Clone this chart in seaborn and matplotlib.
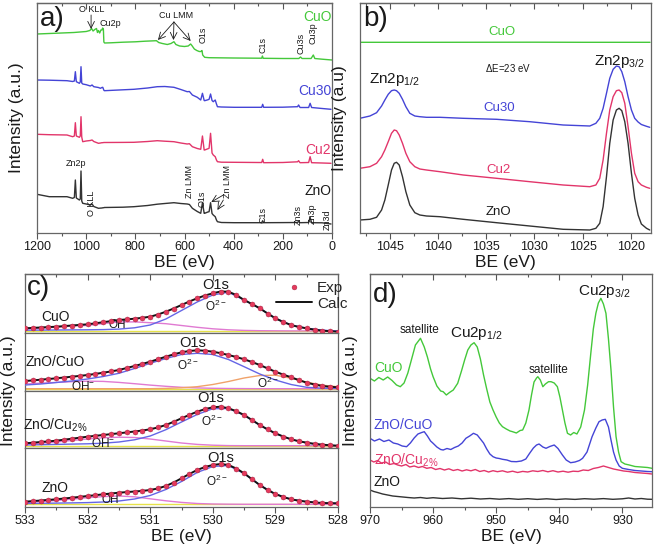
import matplotlib
matplotlib.use("Agg")
import matplotlib.pyplot as plt
from matplotlib.ticker import MultipleLocator, FormatStrFormatter
from matplotlib.lines import Line2D
import seaborn as sns

# ---------------- data (intensities in a.u.) ----------------
# a) survey spectra
a_be_cuo = [1200, 1150, 1100, 1050, 1000, 985, 978, 972, 965, 958, 954, 950, 945, 940, 936, 933, 930,
            928, 925, 900, 850, 800, 760, 714, 705, 690, 670, 655, 643, 635, 620, 600, 585, 575, 570,
            560, 550, 540, 533, 529, 526, 518, 500, 400, 300, 286, 283, 280, 200, 135, 128, 122, 85,
            76, 70, 40, 0]
a_cuo = [199, 199.5, 200, 200.5, 201.5, 202.5, 204.5, 202, 203.5, 204.5, 200.5, 202.5, 200, 203, 203,
         205, 204, 191, 190, 190.2, 190.8, 191.2, 191.8, 192.3, 190.5, 189.5, 188.5, 189.5, 191.3,
         188.5, 187, 186.5, 187, 189, 187.5, 184, 182.5, 181.5, 181.5, 182.5, 178, 175.7, 175.3,
         175, 174.8, 174.8, 177, 174.7, 174.5, 174.5, 176, 174.5, 174.5, 178, 174.5, 173.8, 173]

a_be_zn = [1200, 1150, 1078, 1055, 1048, 1044, 1040, 1027.6, 1024, 1021, 1018, 1014, 1000, 983, 976,
           969, 950, 942, 936, 932.5, 928, 926, 850, 806, 750, 711, 680, 643, 615, 589, 580, 568, 548,
           534, 527, 520, 518, 505, 500, 494, 488, 483, 475, 470, 466, 450, 398, 300, 286, 282, 278,
           200, 140, 136, 130, 95, 89, 83, 40, 4]
a_cu30 = [153, 152.8, 152.3, 151.5, 152, 161.3, 151.3, 149.7, 151, 166.3, 150, 149, 148.3, 147, 148,
          146.3, 145.5, 144.7, 145.5, 145.7, 142.8, 142.3, 143.2, 143.7, 145, 146.3, 146.5, 145.7,
          143.5, 141.3, 141.5, 138, 135.7, 133, 139.7, 132.5, 132.3, 133.2, 133.7, 139, 132.5, 131.3,
          133, 129, 126.3, 126, 125.7, 125.7, 125.7, 128.7, 125.7, 125.8, 126.3, 128, 125.5, 125.5,
          129.7, 125.5, 124.5, 123.7]
a_cu2 = [98.7, 98.3, 98, 96.3, 97, 110.3, 97, 95.7, 97, 116.3, 96, 91.3, 92, 92.5, 93, 91.5, 89.7,
         90, 90.3, 90.3, 90.5, 90.5, 90.6, 90.7, 91.5, 92.3, 91.8, 91.3, 90, 89, 89.3, 86.3, 84.5,
         83.7, 97, 83, 83, 84.2, 84.7, 99.7, 80, 78, 76.3, 73, 71.3, 70.8, 70.7, 70.5, 70.5, 73.7,
         70.3, 70.5, 71.2, 72.3, 70.3, 70.5, 76.3, 70.3, 70, 69.7]
a_zno = [38.7, 36.3, 36.3, 34.7, 35.5, 53, 35, 33, 34, 62, 32, 29.7, 29, 28, 29, 26.5, 24.7, 24.9,
         25, 25.2, 25.3, 25.5, 25.8, 26.3, 27.5, 28.8, 29.5, 30.3, 29.5, 29, 28.5, 24.7, 21.5, 19.7,
         30.3, 19.7, 19.7, 21, 21.3, 30.3, 19.5, 18, 16.3, 13, 11.3, 10.5, 10.3, 10.3, 10.3, 12.3,
         10.3, 10.4, 10.5, 11.7, 10.3, 10.5, 15.7, 10.3, 10.2, 9]

# b) Zn 2p
b_be_flat = [1048.1, 1040, 1030, 1025, 1018]
b_cuo = [190.7, 190.7, 190.8, 190.7, 190.7]
b_be = [1048.11, 1047.07, 1046.38, 1045.86, 1045.52, 1045.17, 1044.83, 1044.55, 1044.31, 1044.03,
        1043.69, 1043.34, 1042.93, 1042.41, 1041.89, 1041.20, 1039.81, 1037.39, 1033.93, 1030.48,
        1027.02, 1024.25, 1023.62, 1023.22, 1022.87, 1022.52, 1022.18, 1021.83, 1021.49, 1021.21,
        1020.93, 1020.62, 1020.28, 1019.93, 1019.59, 1019.24, 1018.90, 1018.37, 1018.03]
b_cu30 = [114.7, 117, 120.3, 127, 133, 138.7, 142.3, 143, 142.3, 139.7, 133.7, 126.3, 119.7, 117,
          116.3, 115.7, 115.7, 114.7, 113.7, 111.3, 108, 107, 109.7, 114.7, 124.7, 139.7, 154.7,
          163.7, 167, 166.3, 161.3, 151.3, 136.3, 123, 114.7, 111, 108.5, 106.7, 105.7]
b_cu2 = [64.7, 66.3, 69.7, 76.3, 83, 91.3, 99.7, 103, 102.3, 98, 89.7, 79.7, 71.3, 66.3, 64, 63, 61.3,
         58, 54.7, 51.3, 48, 46.3, 48, 54.7, 73, 99.7, 123, 136.3, 142.3, 143, 140.3, 129.7, 106.3,
         79.7, 59.7, 51.3, 48, 45.7, 44.7]
b_zno = [13, 13.7, 15.7, 23, 33, 48, 63, 69.7, 70.7, 68, 56.3, 41.3, 28, 20.3, 18, 17, 16.3, 13.7,
         10.3, 7, 3.7, 3, 4.7, 9.7, 26.3, 56.3, 89.7, 113, 123, 124.7, 122.3, 111.3, 89.7, 59.7, 34.7,
         18, 9, 4.7, 3]

# c) O 1s fits, four stacked samples
c_samples = ["CuO", "ZnO/CuO", "ZnO/Cu$_{2\\%}$", "ZnO"]
c_be = [533.0, 532.875, 532.75, 532.625, 532.5, 532.375, 532.25, 532.125, 532.0, 531.875, 531.75,
        531.625, 531.5, 531.375, 531.25, 531.125, 531.0, 530.875, 530.75, 530.625, 530.5, 530.375,
        530.25, 530.125, 530.0, 529.875, 529.75, 529.625, 529.5, 529.375, 529.25, 529.125, 529.0,
        528.875, 528.75, 528.625, 528.5, 528.375, 528.25, 528.125, 528.0]
c_exp_cuo = [4.7, 5.1, 5.5, 5.9, 6.3, 6.9, 7.5, 8.1, 8.7, 9.7, 10.8, 11.9, 13.0, 13.6, 14.3, 15.2,
             16.3, 18.5, 21.3, 24.5, 28.0, 31.5, 34.7, 37.5, 39.7, 41.5, 41.3, 38.0, 33.0, 29.0, 24.7,
             19.5, 14.7, 11.0, 8.0, 6.0, 4.7, 3.3, 2.3, 1.8, 1.3]
c_exp_znocuo = [10.0, 10.6, 11.3, 12.0, 12.7, 13.5, 14.3, 15.1, 16.0, 17.1, 18.3, 19.6, 21.0, 23.0,
                25.0, 27.1, 29.3, 31.8, 34.3, 36.6, 38.7, 40.0, 40.7, 40.3, 39.3, 37.8, 36.0, 34.0,
                31.7, 29.0, 26.0, 22.6, 19.3, 16.4, 13.7, 10.9, 8.3, 6.5, 5.0, 4.2, 3.7]
c_exp_cu2 = [4.7, 5.3, 6.0, 6.6, 7.3, 8.3, 9.3, 10.3, 11.3, 12.2, 13.0, 13.9, 14.7, 15.6, 16.5, 17.5,
             18.7, 20.6, 23.0, 26.2, 29.7, 33.1, 36.3, 38.9, 40.7, 41.3, 39.7, 36.8, 33.0, 28.0, 23.0,
             18.6, 14.7, 11.5, 8.7, 6.8, 5.3, 4.2, 3.3, 2.7, 2.3]
c_exp_zno = [5.3, 5.9, 6.5, 7.1, 7.7, 8.5, 9.3, 10.1, 11.0, 11.8, 12.7, 13.5, 14.3, 14.9, 15.5, 16.1,
             17.0, 18.6, 21.0, 24.5, 28.7, 33.0, 37.0, 40.0, 42.0, 43.0, 42.0, 38.5, 33.7, 27.8, 22.0,
             17.0, 13.0, 10.0, 7.7, 6.3, 5.3, 4.6, 4.0, 3.8, 3.7]

c_be_fit = [533.0, 532.75, 532.5, 532.25, 532.0, 531.75, 531.5, 531.25, 531.0, 530.75, 530.5, 530.25,
            530.0, 529.75, 529.5, 529.25, 529.0, 528.75, 528.5, 528.25, 528.0]
c_o2_cuo = [2.8, 2.9, 3.0, 3.1, 3.2, 3.4, 3.9, 5.2, 8.0, 14.0, 22.5, 31.0, 38.0, 40.8, 33.0, 24.7, 14.7,
            8.0, 4.7, 2.8, 2.0]
c_oh_cuo = [4.3, 5.0, 5.8, 7.0, 7.6, 9.4, 11.0, 11.1, 10.3, 9.3, 7.5, 5.7, 4.2, 3.2, 2.6, 2.3, 2.2, 2.1,
            2.1, 2.0, 2.0]
c_o2_znocuo = [6.0, 7.0, 8.5, 10.0, 12.0, 14.5, 17.7, 22.5, 27.7, 32.5, 36.5, 37.7, 36.5, 31.5, 24.3,
               17.0, 11.0, 6.5, 3.7, 2.8, 2.5]
c_oh_znocuo = [7.0, 7.8, 8.6, 9.3, 9.8, 9.6, 8.6, 7.3, 5.9, 4.7, 3.7, 3.1, 2.7, 2.5, 2.4, 2.3, 2.3, 2.3,
               2.3, 2.3, 2.3]
c_o2b_znocuo = [2.3, 2.3, 2.3, 2.3, 2.3, 2.3, 2.3, 2.3, 2.3, 2.6, 3.2, 4.3, 6.5, 9.5, 13.0, 15.5, 15.8,
                12.8, 8.8, 5.8, 4.2]
c_o2_cu2 = [3.0, 3.3, 3.6, 3.9, 4.2, 4.8, 6.0, 8.2, 12.0, 18.3, 26.0, 33.5, 39.3, 39.5, 32.8, 22.8, 14.5,
            8.5, 5.0, 3.0, 2.2]
c_oh_cu2 = [3.9, 4.9, 6.0, 7.5, 9.0, 10.2, 10.8, 10.5, 9.0, 7.0, 5.0, 3.6, 2.8, 2.4, 2.3, 2.3, 2.3, 2.3,
            2.3, 2.3, 2.3]
c_o2_zno = [3.5, 3.7, 3.9, 4.1, 4.4, 5.0, 6.0, 8.0, 11.5, 17.5, 25.5, 34.5, 40.5, 41.5, 33.5, 22.0, 13.0,
            7.7, 5.2, 3.9, 3.6]
c_oh_zno = [4.5, 5.5, 6.5, 7.9, 9.3, 10.4, 11.0, 10.2, 8.2, 6.2, 4.6, 3.5, 3.0, 2.8, 2.7, 2.7, 2.7, 2.7,
            2.7, 2.7, 2.7]
c_be_base = [533.0, 528.0]
c_base = [[2.2, 2.2], [2.3, 2.3], [2.2, 2.2], [2.8, 2.8]]

# d) Cu 2p
d_be_cuo = [970.0, 969.3, 968.6, 967.9, 967.2, 966.5, 965.8, 965.2, 964.6, 964.0, 963.4, 962.8, 962.0,
            961.4, 960.9, 960.4, 960.0, 959.4, 958.8, 958.4, 957.9, 957.4, 956.8, 956.1, 955.5, 955.0,
            954.5, 954.0, 953.5, 953.0, 952.5, 952.0, 951.5, 951.0, 950.5, 950.0, 949.5, 949.0, 948.4,
            947.8, 947.4, 946.8, 946.2, 945.8, 945.3, 944.8, 944.4, 944.0, 943.6, 943.4, 943.0, 942.6,
            942.2, 941.7, 941.3, 940.8, 940.3, 939.9, 939.5, 939.1, 938.7, 938.2, 937.7, 937.2, 936.6,
            936.0, 935.5, 935.0, 934.6, 934.2, 933.8, 933.4, 933.0, 932.6, 932.2, 931.8, 931.4, 931.0,
            930.6, 930.2, 929.6, 928.9, 928.0, 927.0, 926.0, 925.3]
d_cuo = [128.7, 126, 129.5, 127, 130, 126.5, 122, 120.3, 124, 134, 148, 162, 168.7, 160, 150, 138,
         130.3, 121, 116, 115.3, 112, 114.5, 117, 123.7, 136, 147, 157, 162, 164.3, 160, 148, 132, 118,
         105, 97, 90, 84, 80.3, 78, 76, 75.3, 74, 76.5, 77, 84, 97, 112, 125, 129, 130.3, 127, 120.3,
         123, 125.3, 125.3, 124, 120.3, 110, 97, 84, 73.7, 72, 74.5, 73, 80, 97, 122, 153.7, 178,
         193.7, 204, 208.7, 203, 193.7, 168, 137, 100, 70.3, 55, 45.3, 43, 42, 40.5, 40, 39.5, 38.7]
d_be_znocuo = [970.0, 969.3, 968.5, 967.8, 967.0, 966.3, 965.6, 964.9, 964.2, 963.6, 963.0, 962.4,
               961.8, 961.4, 960.9, 960.4, 960.0, 959.4, 958.8, 958.4, 957.8, 957.2, 956.6, 956.0,
               955.4, 954.8, 954.2, 953.6, 953.0, 952.5, 952.0, 951.5, 951.0, 950.5, 950.0, 949.5,
               949.0, 948.3, 947.6, 946.8, 946.0, 945.3, 944.7, 944.1, 943.6, 943.2, 942.6, 942.1,
               941.5, 940.8, 940.2, 939.5, 938.9, 938.2, 937.5, 936.8, 936.3, 935.6, 934.8, 934.2,
               933.7, 933.2, 932.7, 932.2, 931.8, 931.4, 931.0, 930.5, 930.0, 929.0, 928.0, 927.0,
               926.0, 925.3]
d_znocuo = [68.7, 66, 68, 65.5, 67, 64, 63, 61, 60.3, 64, 69, 73, 74.5, 75.3, 71, 66, 63.7, 60, 57.5,
            57, 58.5, 57.5, 59.5, 61, 64, 68.7, 71, 73.7, 72, 68, 64, 58, 53, 50.3, 49, 48.5, 47.7, 47,
            45.5, 45.3, 46, 48, 53.7, 59, 62, 63, 60, 58.7, 60.5, 62, 58.5, 52, 47, 44.3, 45, 46.5, 48.7,
            55, 70.3, 79, 85.3, 87, 87.7, 80, 67, 55, 47, 41, 38.7, 37.5, 36.5, 36, 35.5, 35.3]
d_be_cu2 = [970.0, 969.4, 968.8, 968.2, 967.5, 966.9, 966.2, 965.6, 965.0, 964.3, 963.7, 963.0, 962.3,
            961.7, 961.0, 960.3, 959.6, 958.9, 958.2, 957.5, 956.8, 956.1, 955.4, 954.7, 954.0, 953.3,
            952.6, 951.9, 951.2, 950.5, 949.8, 949.0, 948.2, 947.4, 946.6, 945.8, 945.0, 944.2, 943.4,
            942.6, 941.8, 941.0, 940.2, 939.4, 938.6, 937.8, 937.0, 936.2, 935.4, 934.6, 933.8, 933.0,
            932.2, 931.4, 930.6, 929.8, 929.0, 928.0, 927.0, 926.0, 925.3]
d_cu2 = [47, 45, 46.5, 44, 45, 42.5, 43.5, 42, 41, 42.5, 40, 41, 39.5, 40.5, 38.7, 39.5, 37.5, 38.5, 37,
         38.2, 36.5, 37.5, 36, 37.2, 36.2, 37.5, 35.5, 36.5, 35, 36.3, 35.3, 36.2, 34.8, 35.8, 34.5,
         35.6, 35, 36.2, 35.5, 36.5, 35.2, 36.3, 35, 35.8, 34.8, 35.8, 35.5, 37, 36.5, 38.5, 39.5, 41,
         39.5, 38, 37, 36, 35.5, 34.5, 34, 33.5, 33]
d_be_zno = [970.0, 969.4, 968.8, 968.0, 967.2, 966.4, 965.6, 964.8, 964.0, 963.0, 962.0, 961.0, 960.0,
            958.5, 957.0, 955.5, 954.0, 952.5, 951.0, 949.5, 948.0, 946.5, 945.0, 943.5, 942.0, 940.5,
            939.0, 937.5, 936.0, 934.5, 933.0, 931.5, 930.0, 929.0, 928.0, 927.0, 926.0, 925.3]
d_zno = [17, 15.5, 14.5, 13, 12, 11, 10.5, 10, 9.5, 9, 9.5, 8.7, 9.3, 8.5, 9, 8.2, 8.8, 8, 8.5, 7.8, 8.4,
         7.7, 8.3, 7.6, 8.2, 7.5, 8.1, 7.6, 8.3, 7.8, 8.4, 7.7, 8.2, 9, 8, 8.5, 7.8, 7.7]

# ---------------- style ----------------
sns.set_theme(style="ticks")
plt.rcParams["font.family"] = ["Liberation Sans", "DejaVu Sans"]
plt.rcParams["mathtext.fontset"] = "custom"
plt.rcParams["mathtext.rm"] = "Liberation Sans"
plt.rcParams["mathtext.it"] = "Liberation Sans:italic"
plt.rcParams["mathtext.bf"] = "Liberation Sans:bold"

GREEN = "#44c83a"
BLUE = "#4444d6"
RED = "#e2356a"
BLACK = "#333333"
TXT = "#1a1a1a"

W, H = 658, 545
fig = plt.figure(figsize=(W / 100, H / 100), dpi=100)


def box(l, t, r, b):
    return fig.add_axes([l / W, 1 - b / H, (r - l) / W, (b - t) / H])


def trace(ax, x, y, color, lw=1.0, z=2):
    sns.lineplot(x=x, y=y, ax=ax, color=color, lw=lw, sort=False, estimator=None, zorder=z)


def frame(ax, xlim, ylim, major, minor, top=True, bottom=True):
    ax.set_xlim(*xlim)
    ax.set_ylim(*ylim)
    ax.set_yticks([])
    ax.set_ylabel("")
    ax.xaxis.set_major_locator(MultipleLocator(major))
    ax.xaxis.set_minor_locator(MultipleLocator(minor))
    ax.xaxis.set_major_formatter(FormatStrFormatter("%d"))
    ax.tick_params(axis="x", which="both", direction="out", bottom=bottom, labelbottom=bottom,
                   top=False, color="#555555", labelcolor=TXT, labelsize=9, pad=2)
    ax.tick_params(axis="x", which="major", length=4, width=0.8)
    ax.tick_params(axis="x", which="minor", length=2.5, width=0.8)
    for s in ax.spines.values():
        s.set_color("#666666")
        s.set_linewidth(0.9)
    if top:
        sec = ax.secondary_xaxis("top")
        sec.xaxis.set_major_locator(MultipleLocator(major))
        sec.xaxis.set_minor_locator(MultipleLocator(minor))
        sec.tick_params(axis="x", which="both", direction="in", labeltop=False, color="#555555")
        sec.tick_params(axis="x", which="major", length=4, width=0.8)
        sec.tick_params(axis="x", which="minor", length=2.5, width=0.8)
        sec.spines["top"].set_color("#666666")
        sec.spines["top"].set_linewidth(0.9)


# ---------------- a) survey ----------------
ax = box(37, 3, 332, 233)
trace(ax, a_be_cuo, a_cuo, GREEN)
trace(ax, a_be_zn, a_cu30, BLUE)
trace(ax, a_be_zn, a_cu2, RED)
trace(ax, a_be_zn, a_zno, BLACK)
frame(ax, (1200, 0), (0, 230), 200, 100)
ax.set_xlabel("BE (eV)", fontsize=12.5, color=TXT, labelpad=1)
ax.set_ylabel("Intensity (a.u.)", fontsize=12.5, color=TXT)
ax.yaxis.set_label_coords(-0.045, 0.5)
ax.text(0.01, 0.985, "a)", transform=ax.transAxes, fontsize=20, va="top", ha="left", color=TXT)
sm = dict(fontsize=6.5, color=TXT, ha="center", va="center")
ax.text(977, 223, "O KLL", **sm)
ax.annotate("", xy=(980, 204), xytext=(980, 218),
            arrowprops=dict(arrowstyle="->", lw=0.6, color=TXT, shrinkA=0, shrinkB=0))
ax.text(900, 210, "Cu2p", **sm)
ax.text(636, 217, "Cu LMM", **sm)
for tip in [(708, 193), (645, 193), (575, 192)]:
    ax.annotate("", xy=tip, xytext=(643, 211),
                arrowprops=dict(arrowstyle="->", lw=0.6, color=TXT, shrinkA=0, shrinkB=0))
rot = dict(fontsize=6.5, color=TXT, ha="center", va="center", rotation=90)
ax.text(526, 198, "O1s", **rot)
ax.text(282, 188, "C1s", **rot)
ax.text(128, 190, "Cu3s", **rot)
ax.text(76, 200, "Cu3p", **rot)
ax.text(1040, 70, "Zn2p", **sm)
ax.text(979, 30, "O KLL", **rot)
ax.text(579, 52, "Zn LMM", **rot)
ax.text(529, 34, "O1s", **rot)
ax.text(425, 51, "Zn LMM", **rot)
ax.annotate("", xy=(491, 31), xytext=(442, 38),
            arrowprops=dict(arrowstyle="->", lw=0.6, color=TXT, shrinkA=0, shrinkB=0))
ax.annotate("", xy=(466, 23), xytext=(442, 33),
            arrowprops=dict(arrowstyle="->", lw=0.6, color=TXT, shrinkA=0, shrinkB=0))
ax.text(282, 18, "C1s", **rot)
ax.text(139, 18, "Zn3s", **rot)
ax.text(82, 19, "Zn3p", **rot)
ax.text(21, 13, "Zn3d", clip_on=True, **rot)
lab = dict(fontsize=10, ha="right", va="center")
ax.text(3, 216, "CuO", color=GREEN, **lab)
ax.text(3, 142, "Cu30", color=BLUE, **lab)
ax.text(3, 83, "Cu2", color=RED, **lab)
ax.text(3, 42, "ZnO", color=TXT, **lab)

# ---------------- b) Zn 2p ----------------
ax = box(360, 3, 651, 233)
trace(ax, b_be_flat, b_cuo, GREEN)
trace(ax, b_be, b_cu30, BLUE)
trace(ax, b_be, b_cu2, RED)
trace(ax, b_be, b_zno, BLACK)
frame(ax, (1048.1, 1017.9), (0, 230), 5, 2.5)
ax.set_xlabel("BE (eV)", fontsize=12.5, color=TXT, labelpad=1)
ax.set_ylabel("Intensity (a.u)", fontsize=12.5, color=TXT)
ax.yaxis.set_label_coords(-0.045, 0.5)
ax.text(0.01, 0.985, "b)", transform=ax.transAxes, fontsize=20, va="top", ha="left", color=TXT)
ax.text(1033.4, 201, "CuO", color=GREEN, fontsize=9.5, ha="center", va="center")
ax.text(1032.7, 165, r"$\Delta$E=23 eV", color=TXT, fontsize=7, ha="center", va="center")
ax.text(1044.5, 153, r"Zn2p$_{1/2}$", color=TXT, fontsize=11, ha="center", va="center")
ax.text(1021.2, 171, r"Zn2p$_{3/2}$", color=TXT, fontsize=11, ha="center", va="center")
ax.text(1033.7, 125, "Cu30", color=BLUE, fontsize=9.5, ha="center", va="center")
ax.text(1033.7, 63, "Cu2", color=RED, fontsize=9.5, ha="center", va="center")
ax.text(1033.7, 21, "ZnO", color=TXT, fontsize=9.5, ha="center", va="center")

# ---------------- c) O 1s ----------------
DOT = "#e53a5c"
C_BLUE = "#6565e6"
C_PINK = "#e07ad2"
C_YEL = "#e6e24a"
C_ORG = "#f0a26a"
c_exp = [c_exp_cuo, c_exp_znocuo, c_exp_cu2, c_exp_zno]
c_o2 = [c_o2_cuo, c_o2_znocuo, c_o2_cu2, c_o2_zno]
c_oh = [c_oh_cuo, c_oh_znocuo, c_oh_cu2, c_oh_zno]
rows = [(274, 333), (333, 391), (391, 448), (448, 507)]
c_text = [
    dict(name=(532.52, 16.3), o1s=(529.96, 48), o2=(529.96, 27), oh=(531.53, 8), oh_lab="OH"),
    dict(name=(532.52, 29.3), o1s=(530.32, 48.3), o2=(530.40, 26), oh=(532.07, 4), oh_lab="OH$^{-}$"),
    dict(name=(532.52, 23), o1s=(530.04, 49.7), o2=(530.01, 26.3), oh=(531.75, 4.7), oh_lab="OH$^{-}$"),
    dict(name=(532.52, 18.7), o1s=(529.88, 48.7), o2=(529.93, 25.3), oh=(531.64, 7), oh_lab="OH"),
]
for i, (t, b) in enumerate(rows):
    ax = box(25, t, 338, b)
    trace(ax, c_be_base, c_base[i], C_YEL, lw=1.0, z=1)
    trace(ax, c_be_fit, c_oh[i], C_PINK, lw=1.0, z=2)
    if i == 1:
        trace(ax, c_be_fit, c_o2b_znocuo, C_ORG, lw=1.0, z=2)
    trace(ax, c_be_fit, c_o2[i], C_BLUE, lw=1.0, z=3)
    trace(ax, c_be, c_exp[i], "#111111", lw=1.4, z=4)
    sns.scatterplot(x=c_be, y=c_exp[i], ax=ax, color=DOT, s=13, edgecolor="#9c2040",
                    linewidth=0.3, zorder=5)
    frame(ax, (533, 528), (0, b - t), 1, 0.5, top=(i == 0), bottom=(i == 3))
    s = c_text[i]
    ax.text(*s["name"], c_samples[i], fontsize=10, color=TXT, ha="center", va="center")
    ax.text(*s["o1s"], "O1s", fontsize=10.5, color=TXT, ha="center", va="center")
    ax.text(*s["o2"], "O$^{2-}$", fontsize=8.5, color=TXT, ha="center", va="center")
    ax.text(*s["oh"], s["oh_lab"], fontsize=8.5, color=TXT, ha="center", va="center")
    if i == 1:
        ax.text(529.12, 7.7, "O$^{2-}$", fontsize=8.5, color=TXT, ha="center", va="center")
    if i == 0:
        ax.text(0.005, 0.98, "c)", transform=ax.transAxes, fontsize=20, va="top", ha="left",
                color=TXT)
        handles = [Line2D([], [], marker="o", ls="", color=DOT, ms=3.5, mec="#9c2040", mew=0.3),
                   Line2D([], [], color="#111111", lw=1.4)]
        ax.legend(handles, ["Exp", "Calc"], loc="upper right", bbox_to_anchor=(1.03, 0.88),
                  frameon=False, fontsize=11, handlelength=2.4, handletextpad=0.3,
                  labelspacing=0.1, borderpad=0, borderaxespad=0)
    if i == 3:
        ax.set_xlabel("BE (eV)", fontsize=12.5, color=TXT, labelpad=1)
fig.text(9 / W, 1 - 390.5 / H, "Intensity (a.u.)", rotation=90, fontsize=12.5, color=TXT,
         ha="center", va="center")

# ---------------- d) Cu 2p ----------------
ax = box(370, 274, 652, 507)
trace(ax, d_be_zno, d_zno, BLACK)
trace(ax, d_be_cu2, d_cu2, RED)
trace(ax, d_be_znocuo, d_znocuo, BLUE)
trace(ax, d_be_cuo, d_cuo, GREEN)
frame(ax, (970, 925.3), (0, 233), 10, 5)
ax.set_xlabel("BE (eV)", fontsize=12.5, color=TXT, labelpad=1)
ax.set_ylabel("Intensity (a.u.)", fontsize=12.5, color=TXT)
ax.yaxis.set_label_coords(-0.043, 0.5)
ax.text(0.01, 0.965, "d)", transform=ax.transAxes, fontsize=20, va="top", ha="left", color=TXT)
ax.text(932.9, 215, r"Cu2p$_{3/2}$", fontsize=11, color=TXT, ha="center", va="center")
ax.text(953.1, 174, r"Cu2p$_{1/2}$", fontsize=11, color=TXT, ha="center", va="center")
ax.text(962.1, 177, "satellite", fontsize=8.5, color=TXT, ha="center", va="center")
ax.text(941.7, 137, "satellite", fontsize=8.5, color=TXT, ha="center", va="center")
ax.text(969.4, 139, "CuO", fontsize=10, color=GREEN, ha="left", va="center")
ax.text(969.4, 82, "ZnO/CuO", fontsize=10, color=BLUE, ha="left", va="center")
ax.text(969.4, 47, "ZnO/Cu$_{2\\%}$", fontsize=10, color=RED, ha="left", va="center")
ax.text(969.4, 25, "ZnO", fontsize=10, color=TXT, ha="left", va="center")

fig.savefig("out.png", dpi=100)
plt.close(fig)
